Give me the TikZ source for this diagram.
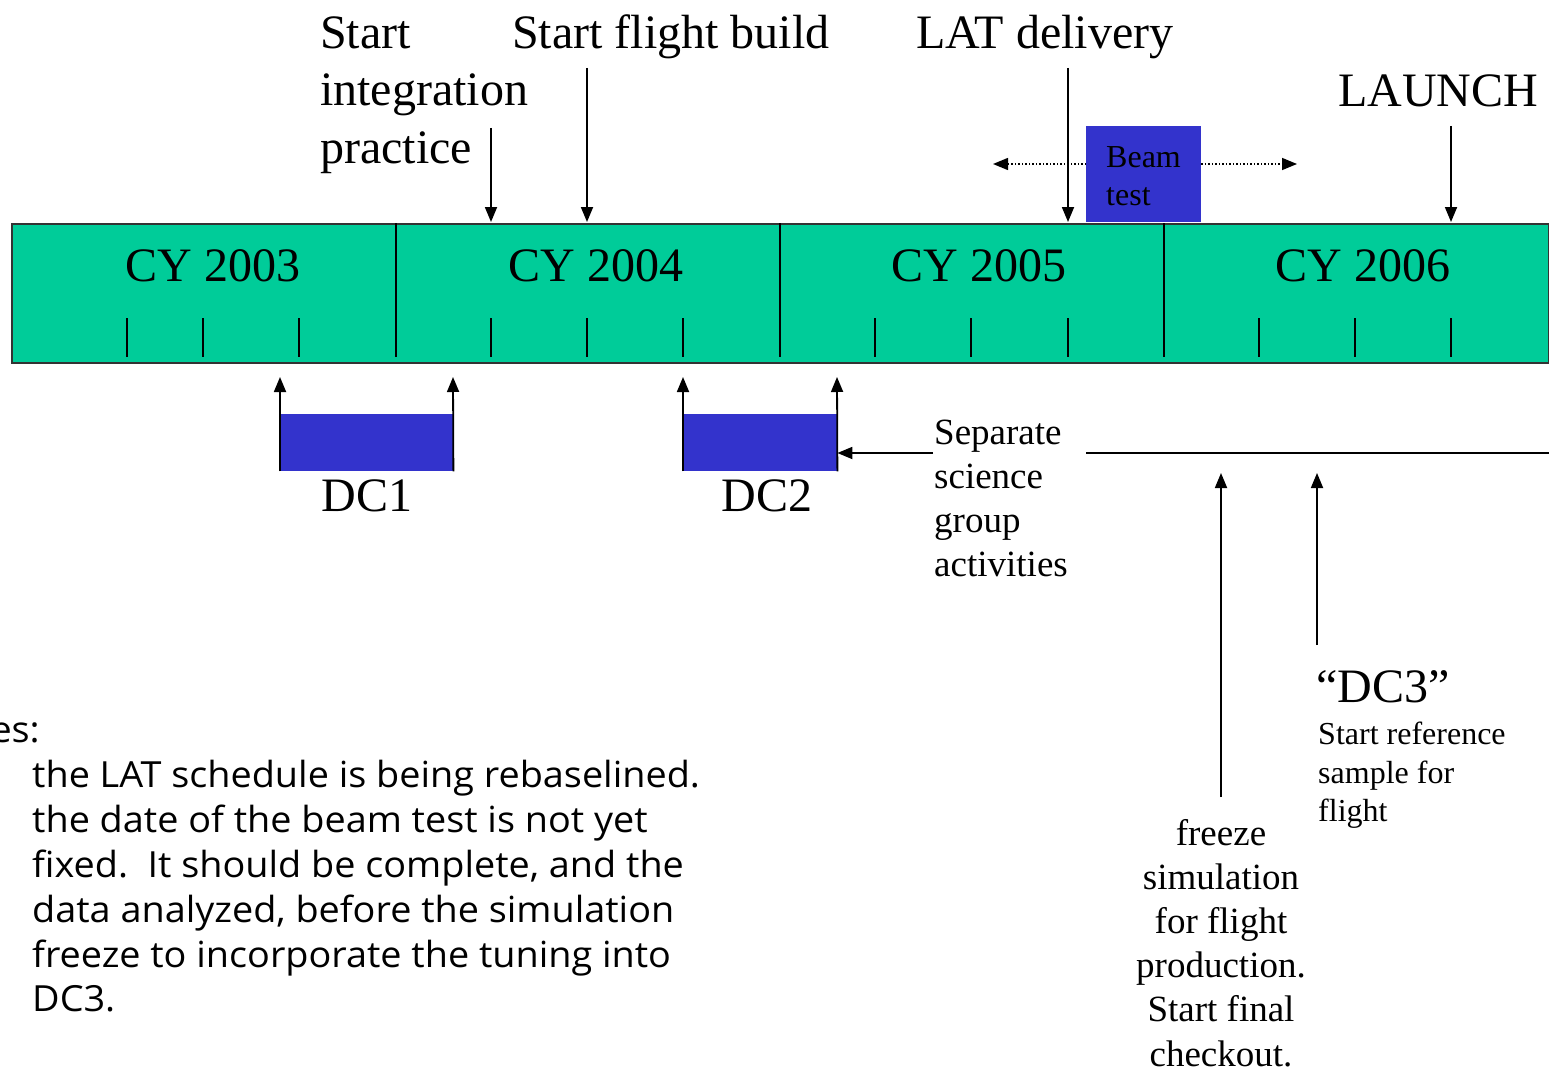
\documentclass[tikz,border=0pt]{standalone}
\usepackage{fontspec}
\setmainfont{Liberation Serif}
\newfontfamily\notefont[FakeStretch=1.05]{Open Sans}
\usetikzlibrary{arrows.meta}
\definecolor{bargreen}{RGB}{0,204,153}
\definecolor{boxblue}{RGB}{51,51,204}
\begin{document}
\begin{tikzpicture}[x=1pt,y=-1pt,
  big/.style={font=\fontsize{48}{56}\selectfont, inner sep=0pt},
  mid/.style={font=\fontsize{37}{44}\selectfont, inner sep=0pt},
  small/.style={font=\fontsize{32}{38}\selectfont, inner sep=0pt},
  note/.style={font=\notefont\fontsize{36}{45}\selectfont, inner sep=0pt},
  arr/.style={line width=1.8pt, -{Triangle[length=15pt,width=12pt]}},
  darr/.style={line width=1.5pt, dotted, -{Triangle[length=15pt,width=12pt]}},
  tick/.style={line width=1.8pt},
  blk/.style={fill=boxblue, draw=none}]
\useasboundingbox (0,0) rectangle (1549,1070);
% timeline bar
\node[draw=black!80, line width=2pt, fill=bargreen, minimum width=1537pt, minimum height=139pt, anchor=north west, inner sep=0pt] (bar) at (11,223) {};
\foreach \x/\n in {396/d1,780/d2,1164/d3}{
  \coordinate (\n t) at (\x,223); \coordinate (\n b) at (\x,357);
  \draw[tick] (\n t) -- (\n b);}
\foreach \x [count=\i] in {127,203,299,491,587,683,875,971,1068,1259,1355,1451}{
  \coordinate (tk\i t) at (\x,318); \coordinate (tk\i b) at (\x,357);
  \draw[tick] (tk\i t) -- (tk\i b);}
\node[big, anchor=base] (y3) at (213,281) {CY 2003};
\node[big, anchor=base] (y4) at (596,281) {CY 2004};
\node[big, anchor=base] (y5) at (979,281) {CY 2005};
\node[big, anchor=base] (y6) at (1363,281) {CY 2006};
% top labels
\node[big, anchor=base west] (sip1) at (320,49) {Start};
\node[big, anchor=base west] (sip2) at (320,106) {integration};
\node[big, anchor=base west] (sip3) at (320,163) {practice};
\node[big, anchor=base west] (sfb) at (512,49) {Start flight build};
\node[big, anchor=base west] (lat) at (916,49) {LAT delivery};
\node[big, anchor=base west] (launch) at (1338,107) {LAUNCH};
\coordinate (a1s) at (491,128); \coordinate (a1e) at (491,222);
\coordinate (a2s) at (587,68);  \coordinate (a2e) at (587,222);
\coordinate (a3s) at (1068,68); \coordinate (a3e) at (1068,222);
\coordinate (a4s) at (1451,126); \coordinate (a4e) at (1451,222);
% beam test
\node[blk, minimum width=115pt, minimum height=96pt, anchor=north west, inner sep=0pt] (beam) at (1086,126) {};
\draw[darr] (beam.west |- 0,164) coordinate (bl) -- (993,164) coordinate (blt);
\draw[darr] (beam.east |- 0,164) coordinate (br) -- (1297,164) coordinate (brt);
\draw[arr] (a1s) -- (a1e);
\draw[arr] (a2s) -- (a2e);
\draw[arr] (a3s) -- (a3e);
\draw[arr] (a4s) -- (a4e);
\node[small, anchor=base west] (beamt1) at (1106,167) {Beam};
\node[small, anchor=base west] (beamt2) at (1106,205) {test};
% DC1 / DC2
\node[blk, minimum width=173pt, minimum height=57pt, anchor=north west] (dc1) at (280,414) {};
\node[blk, minimum width=154pt, minimum height=57pt, anchor=north west] (dc2) at (683,414) {};
\coordinate (u1) at (280,377); \coordinate (u2) at (453,377);
\coordinate (u3) at (683,377); \coordinate (u4) at (837,377);
\draw[arr] (dc1.south west) -- (u1);
\draw[arr] (dc1.south east) -- (u2);
\draw[arr] (dc2.south west) -- (u3);
\draw[arr] (dc2.south east) -- (u4);
\node[big, anchor=base] (dc1l) at (367,511) {DC1};
\node[big, anchor=base] (dc2l) at (767,511) {DC2};
% separate science group activities
\node[mid, anchor=base west] (sep1) at (934,444) {Separate};
\node[mid, anchor=base west] (sep2) at (934,488) {science};
\node[mid, anchor=base west] (sep3) at (934,532) {group};
\node[mid, anchor=base west] (sep4) at (934,576) {activities};
\coordinate (sepa) at (933,453);
\draw[arr] (sepa) -- (dc2.east |- sepa);
\coordinate (hl1) at (1086,453); \coordinate (hl2) at (1549,453);
\draw[line width=1.8pt] (hl1) -- (hl2);
% freeze / DC3 arrows
\coordinate (f1) at (1221,797); \coordinate (f2) at (1221,473);
\coordinate (g1) at (1317,645); \coordinate (g2) at (1317,473);
\draw[arr] (f1) -- (f2);
\draw[arr] (g1) -- (g2);
\node[big, anchor=base west] (dc3) at (1316,702) {“DC3”};
\node[small, anchor=base west] (ref1) at (1318,744) {Start reference};
\node[small, anchor=base west] (ref2) at (1318,783) {sample for};
\node[small, anchor=base west] (ref3) at (1318,821) {flight};
\foreach \t [count=\i] in {freeze,simulation,for flight,production.,Start final,checkout.}{
  \node[mid, anchor=base] (fz\i) at (1221,845+44.2*\i-44.2) {\t};}
% notes
\node[note, anchor=base east] (notes) at (40,742) {Notes:};
\node[note, anchor=base west] (n1) at (32,787) {the LAT schedule is being rebaselined.};
\node[note, anchor=base west] (n2) at (32,832) {the date of the beam test is not yet};
\node[note, anchor=base west] (n3) at (32,877) {fixed.\ \ It should be complete, and the};
\node[note, anchor=base west] (n4) at (32,922) {data analyzed, before the simulation};
\node[note, anchor=base west] (n5) at (32,967) {freeze to incorporate the tuning into};
\node[note, anchor=base west] (n6) at (32,1011) {DC3.};
\end{tikzpicture}
\end{document}
